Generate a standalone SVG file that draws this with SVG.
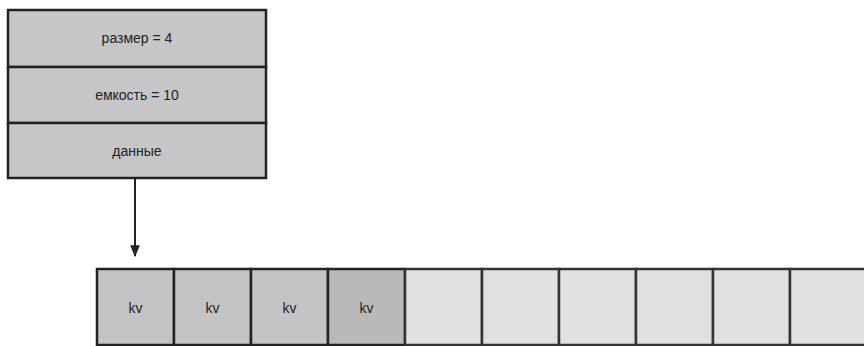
<svg xmlns="http://www.w3.org/2000/svg" width="864" height="346" viewBox="0 0 864 346">
<defs>
<style>
.box{fill:#c6c6c6;stroke:#222;stroke-width:2.5}
.full{fill:#c4c4c4;stroke:#222;stroke-width:2.5}
.empty{fill:#e0e0e0;stroke:#333;stroke-width:2.5}
.t{font-family:"Liberation Sans",Arial,sans-serif;font-size:14px;fill:#222;text-anchor:middle;dominant-baseline:central}
.c{stroke:#222;stroke-width:2;fill:none}
</style>
<marker id="ah" viewBox="0 0 10 10" refX="9" refY="5" markerWidth="6" markerHeight="6" orient="auto">
<path d="M0,1 L10,5 L0,9 z" fill="#222"/>
</marker>
</defs>
<g id="header">
<rect class="box" x="8" y="10" width="258" height="57"/>
<text class="t" x="137" y="38">размер = 4</text>
</g>
<g id="capacity">
<rect class="box" x="8" y="67" width="258" height="56"/>
<text class="t" x="137" y="95">емкость = 10</text>
</g>
<g id="data">
<rect class="box" x="8" y="123" width="258" height="55"/>
<text class="t" x="137" y="151">данные</text>
</g>
<g id="connectors">
<line class="c" x1="135" y1="179" x2="135" y2="256" marker-end="url(#ah)"/>
</g>
<g id="array">
<g id="cell0"><rect class="full" x="97" y="269" width="77" height="76"/><text class="t" x="135.5" y="308">kv</text></g>
<g id="cell1"><rect class="full" x="174" y="269" width="77" height="76"/><text class="t" x="212.5" y="308">kv</text></g>
<g id="cell2"><rect class="full" x="251" y="269" width="77" height="76"/><text class="t" x="289.5" y="308">kv</text></g>
<g id="cell3"><rect class="full" x="328" y="269" width="77" height="76" style="fill:#b9b9b9"/><text class="t" x="366.5" y="308">kv</text></g>
<g id="cell4"><rect class="empty" x="405" y="269" width="77" height="76"/></g>
<g id="cell5"><rect class="empty" x="482" y="269" width="77" height="76"/></g>
<g id="cell6"><rect class="empty" x="559" y="269" width="77" height="76"/></g>
<g id="cell7"><rect class="empty" x="636" y="269" width="77" height="76"/></g>
<g id="cell8"><rect class="empty" x="713" y="269" width="77" height="76"/></g>
<g id="cell9"><rect class="empty" x="790" y="269" width="77" height="76"/></g>
</g>
</svg>
